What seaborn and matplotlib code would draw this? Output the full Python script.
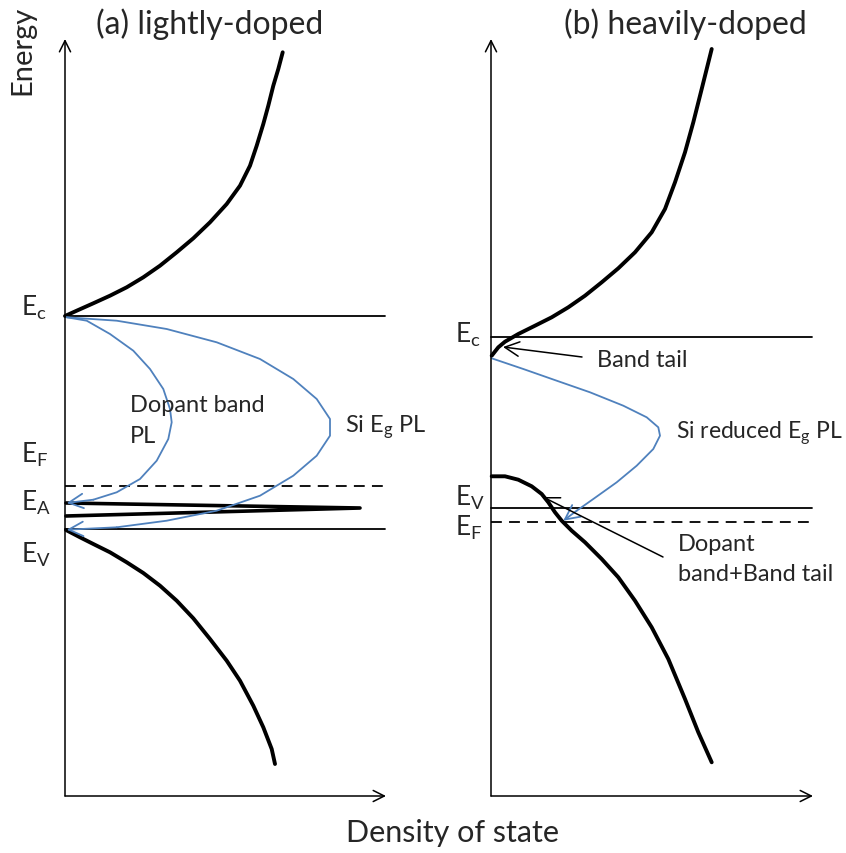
import numpy as np
import pandas as pd
import matplotlib
matplotlib.use("Agg")
import matplotlib.pyplot as plt
import seaborn as sns

sns.set_theme(style="white")
plt.rcParams['font.family'] = ['Lato', 'DejaVu Sans']
plt.rcParams['mathtext.fontset'] = 'custom'
plt.rcParams['mathtext.rm'] = 'Lato'
plt.rcParams['mathtext.it'] = 'Lato'

# ---- data (diagram units: x = density of states, y = energy, screen-like) ----
# panel (a) lightly doped
cb_a_x = [65, 76.7, 93.3, 110, 126.7, 143.3, 160, 176.7, 193.3, 210, 226.7, 240, 250,
          256.7, 263.3, 268.3, 273.3, 278.3, 282.7]
cb_a_y = [317, 311.7, 304.3, 296.7, 288.3, 278.3, 266.7, 253.3, 239.3, 223.3, 205, 186.7,
          166.7, 146.7, 125, 106.7, 86.7, 70, 53.3]
vb_a_x = [66, 80, 93.3, 110, 126.7, 143.3, 160, 176.7, 193.3, 210, 226.7, 240, 253.3,
          263.3, 271.7, 275]
vb_a_y = [531, 538.3, 545, 553.3, 563.3, 574, 586.7, 601.7, 619.3, 640, 661.7, 681.7,
          706.7, 728.3, 750, 765]
acc_a_x = [66, 360, 66]
acc_a_y = [504, 509, 517]
pl_dop_x = [66.7, 86.7, 110, 133.3, 150, 163.3, 170, 171.7, 168.3, 156.7, 140, 116.7, 93.3, 66.7]
pl_dop_y = [318.3, 321.7, 335, 351.7, 370, 390, 410, 423.3, 440, 461.7, 480, 493.3, 500.7, 504]
pl_si_x = [66.7, 116.7, 166.7, 216.7, 260, 293.3, 316.7, 330, 330, 316.7, 293.3, 260,
           216.7, 166.7, 116.7, 66.7]
pl_si_y = [318.3, 321.7, 330, 343.3, 360, 380, 400, 420, 436.7, 456.7, 476.7, 496.7,
           511.7, 521.7, 528.3, 530.7]
levels_a = {"Ec": 317, "EF": 487, "EV": 530}

# panel (b) heavily doped
cb_b_x = [491.7, 498.3, 505, 518.3, 535, 551.7, 568.3, 585, 601.7, 618.3, 635, 651.7,
          665, 675, 685, 693.3, 701.7, 711.7]
cb_b_y = [356.7, 348.3, 342.7, 335, 326.7, 318.3, 308.3, 296.7, 283.3, 269.3, 253.3,
          233.3, 210, 183.3, 153.3, 123.3, 90, 50]
vb_b_x = [491.7, 505, 518.3, 531.7, 541.7, 548.3, 555, 561.7, 571.7, 585, 601.7, 618.3,
          635, 651.7, 668.3, 685, 698.3, 711.7]
vb_b_y = [477.3, 477.3, 480.7, 487.3, 495, 503.3, 513.3, 521.7, 531.7, 543.3, 560, 578.3,
          601.7, 628.3, 660, 700, 733.3, 763.3]
pl_b_x = [491.7, 523.3, 556.7, 590, 623.3, 646.7, 658.3, 660, 653.3, 636.7, 616.7, 593.3,
          576.7, 563.3]
pl_b_y = [359.3, 370, 381.7, 393.3, 406.7, 418.3, 428.3, 436.7, 450, 466.7, 483.3, 500,
          511.7, 521.7]
levels_b = {"Ec": 338, "EV": 509, "EF": 523}

BLUE = "#4f81bd"
BLACK = "black"

fig = plt.figure(figsize=(8.46, 8.54), dpi=100)
ax = fig.add_axes([0, 0, 1, 1])
ax.set_xlim(0, 846)
ax.set_ylim(854, 0)
ax.axis("off")


def curve(xs, ys, color, lw, ls="-"):
    n0 = len(ax.lines)
    sns.lineplot(x=xs, y=ys, sort=False, estimator=None, color=color,
                 lw=lw, ls=ls, ax=ax, legend=False)
    for l in ax.lines[n0:]:
        l.set_solid_joinstyle("round")
        l.set_solid_capstyle("round")
        if ls == "--":
            l.set_dashes([6, 4])


def arrow(x0, y0, x1, y1, color, lw, ms=18):
    ax.annotate("", xy=(x1, y1), xytext=(x0, y0),
                arrowprops=dict(arrowstyle="->", color=color, lw=lw,
                                mutation_scale=ms, shrinkA=0, shrinkB=0))


# axes arrows
for x0, xend in [(65, 386), (491, 813)]:
    arrow(x0, 797, x0, 40, BLACK, 1.1, ms=20)
    arrow(x0, 797, xend, 797, BLACK, 1.1, ms=20)

# level lines
for name, y in levels_a.items():
    curve([65, 385], [y, y], BLACK, 1.3, "--" if name == "EF" else "-")
for name, y in levels_b.items():
    curve([491, 812], [y, y], BLACK, 1.3, "--" if name == "EF" else "-")

# bands
curve(cb_a_x, cb_a_y, BLACK, 2.8)
curve(vb_a_x, vb_a_y, BLACK, 2.8)
curve(acc_a_x, acc_a_y, BLACK, 2.6)
curve(cb_b_x, cb_b_y, BLACK, 2.8)
curve(vb_b_x, vb_b_y, BLACK, 2.8)

# PL transitions
for xs, ys in [(pl_dop_x, pl_dop_y), (pl_si_x, pl_si_y), (pl_b_x, pl_b_y)]:
    curve(xs[:-1], ys[:-1], BLUE, 1.3)
    arrow(xs[-2], ys[-2], xs[-1], ys[-1], BLUE, 1.3, ms=26)

# annotation arrows
arrow(582, 358, 503, 348, BLACK, 1.1, ms=26)
arrow(663, 558, 543, 498, BLACK, 1.1, ms=26)

FS = 17
# energy labels
def elabel(x, y, sub):
    ax.text(x, y, r"$\mathregular{E_{%s}}$" % sub, fontsize=FS + 2,
            ha="left", va="baseline")

elabel(21, 316, "c")
elabel(21, 463, "F")
elabel(21, 511, "A")
elabel(21, 563, "V")
elabel(455, 343, "c")
elabel(455, 506, "V")
elabel(455, 536, "F")

ax.text(130, 412, "Dopant band", fontsize=FS, va="baseline")
ax.text(130, 443, "PL", fontsize=FS, va="baseline")
ax.text(345, 432, r"Si E$\mathregular{_g}$ PL", fontsize=FS, va="baseline")
ax.text(597, 367, "Band tail", fontsize=FS, va="baseline")
ax.text(676, 438, r"Si reduced E$\mathregular{_g}$ PL", fontsize=FS - 0.5, va="baseline")
ax.text(678, 551, "Dopant", fontsize=FS, va="baseline")
ax.text(678, 581, "band+Band tail", fontsize=FS, va="baseline")

ax.text(210, 24, "(a) lightly-doped", fontsize=23, ha="center", va="center")
ax.text(685, 24, "(b) heavily-doped", fontsize=23, ha="center", va="center")
ax.text(22, 50, "Energy", fontsize=21, rotation=90, ha="center", va="center")
ax.text(453, 833, "Density of state", fontsize=22, ha="center", va="center")

fig.savefig("out.png", dpi=100)
